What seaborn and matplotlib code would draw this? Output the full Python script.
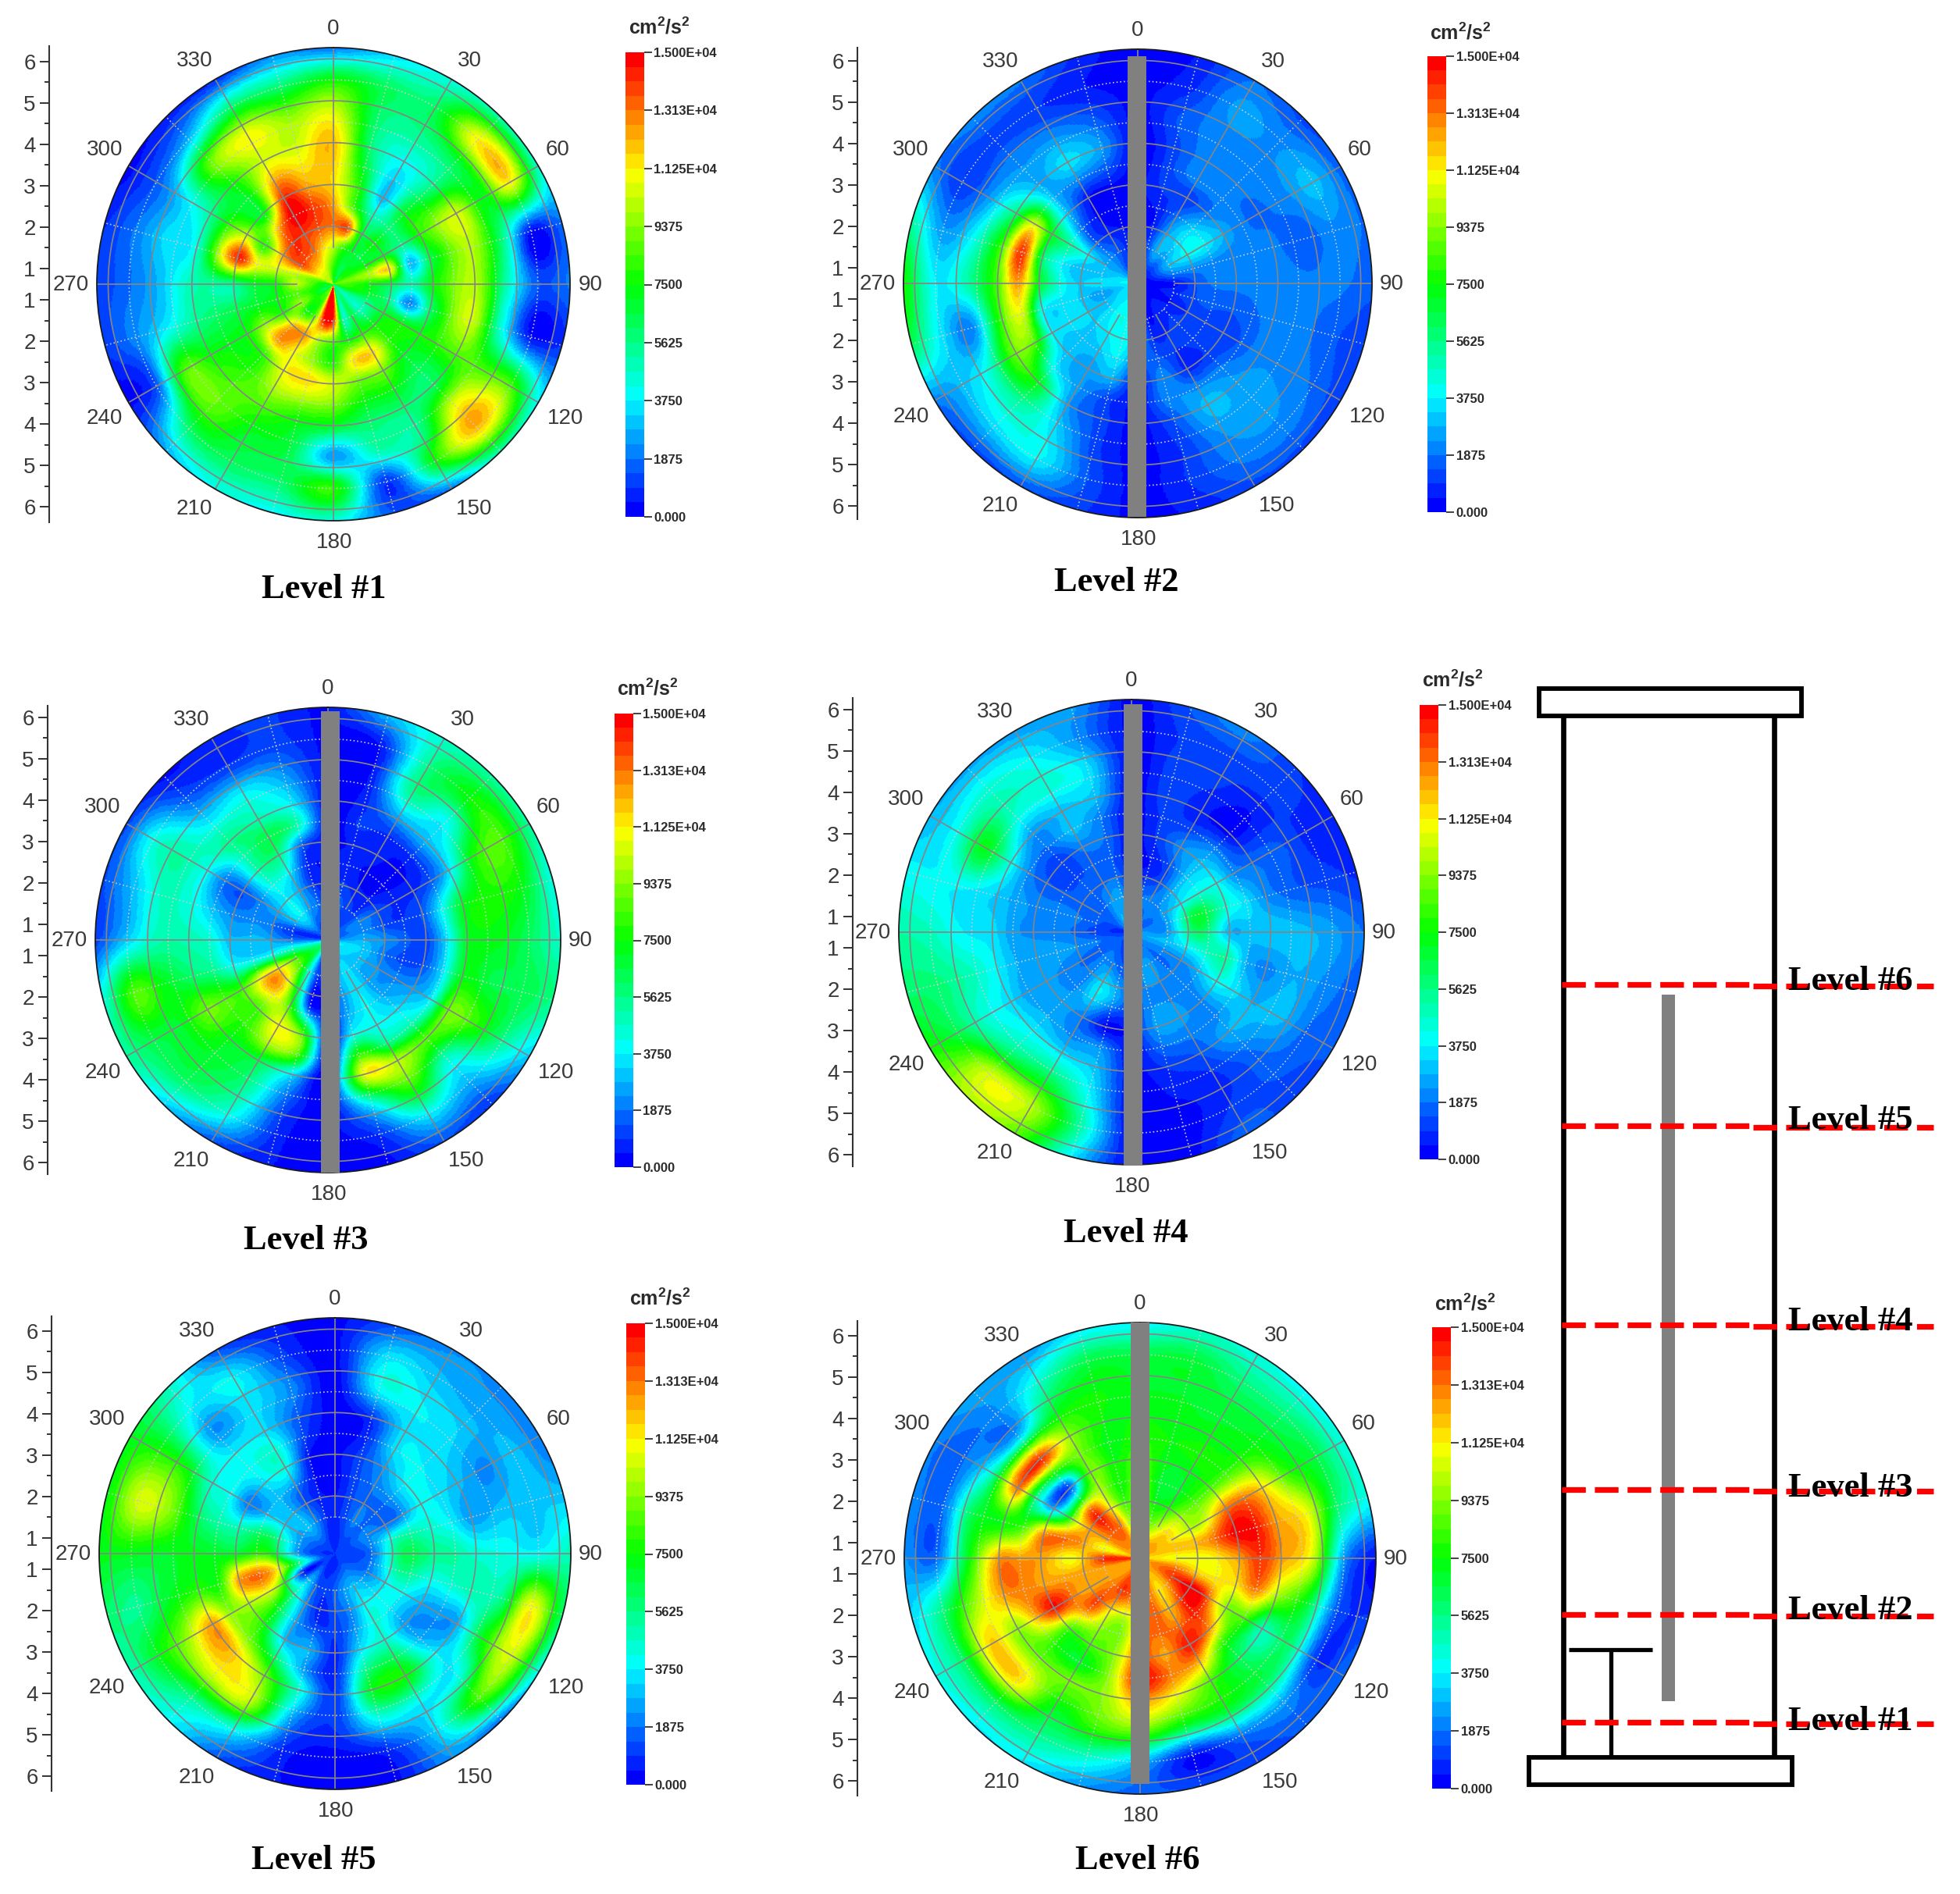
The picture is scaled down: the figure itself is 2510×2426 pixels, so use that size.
import numpy as np
import matplotlib
matplotlib.use("Agg")
import matplotlib.pyplot as plt
from matplotlib.colors import ListedColormap, Normalize
from matplotlib.patches import Rectangle
import seaborn as sns

# Turbulent kinetic energy maps at six levels, in hundreds of cm2/s2.
# Each row is one direction (0, 15, ... 345 degrees), each column one radius.
RINGS_FINE_CORE = [0.8, 1.5, 2.0, 2.5, 3.0, 4.0, 4.75, 5.5, 6.37]
RINGS_MID = [0.8, 1.5, 2.25, 3.0, 3.5, 4.0, 4.75, 5.5, 6.37]

LEVEL_1 = [
    [75, 100, 130, 125, 115, 120, 105, 75, 15],
    [70, 80, 135, 85, 78, 60, 60, 62, 32],
    [60, 70, 68, 50, 30, 40, 55, 62, 42],
    [80, 65, 75, 58, 70, 55, 65, 112, 45],
    [80, 75, 70, 55, 80, 105, 72, 112, 40],
    [90, 100, 115, 30, 65, 100, 60, 5, 20],
    [85, 75, 65, 50, 75, 100, 50, 15, 20],
    [80, 70, 55, 22, 60, 105, 45, 5, 10],
    [60, 55, 70, 75, 75, 85, 85, 85, 35],
    [50, 48, 75, 80, 70, 62, 110, 120, 45],
    [60, 65, 80, 115, 90, 60, 55, 75, 15],
    [60, 50, 75, 115, 90, 60, 50, 10, 15],
    [150, 140, 85, 80, 105, 70, 25, 80, 40],
    [150, 145, 100, 95, 115, 75, 65, 60, 38],
    [90, 90, 125, 110, 110, 85, 70, 62, 40],
    [85, 75, 120, 125, 80, 85, 88, 60, 25],
    [60, 95, 80, 95, 75, 75, 85, 15, 3],
    [70, 85, 75, 70, 65, 55, 38, 22, 10],
    [70, 100, 75, 70, 55, 50, 30, 18, 10],
    [85, 100, 105, 110, 140, 45, 35, 20, 8],
    [100, 135, 125, 80, 100, 55, 35, 15, 2],
    [100, 135, 140, 120, 70, 75, 90, 30, 5],
    [100, 130, 140, 150, 140, 105, 110, 60, 5],
    [90, 115, 135, 140, 125, 105, 95, 60, 20],
]
LEVEL_2 = [
    [5, 5, 3, 3, 2, 2, 3, 3, 2],
    [3, 12, 5, 10, 12, 12, 15, 8, 5],
    [3, 28, 22, 10, 22, 22, 22, 25, 18],
    [3, 25, 36, 20, 20, 20, 22, 22, 12],
    [3, 30, 40, 28, 20, 18, 22, 30, 15],
    [2, 20, 22, 20, 20, 20, 15, 22, 18],
    [2, 4, 18, 20, 20, 22, 20, 20, 15],
    [2, 8, 15, 15, 18, 20, 20, 15, 10],
    [2, 4, 12, 10, 15, 22, 22, 18, 10],
    [2, 8, 12, 10, 20, 25, 25, 22, 12],
    [3, 6, 10, 8, 22, 30, 24, 20, 12],
    [3, 5, 12, 22, 22, 15, 10, 10, 6],
    [5, 30, 25, 6, 5, 3, 3, 3, 3],
    [30, 40, 40, 28, 12, 12, 12, 15, 10],
    [35, 42, 35, 25, 25, 25, 35, 38, 12],
    [35, 35, 32, 30, 40, 70, 50, 35, 10],
    [38, 30, 35, 38, 85, 90, 45, 30, 20],
    [35, 25, 35, 40, 105, 85, 22, 35, 65],
    [38, 36, 35, 70, 125, 85, 50, 38, 80],
    [38, 30, 32, 60, 140, 85, 40, 25, 55],
    [30, 28, 45, 70, 105, 60, 25, 10, 22],
    [20, 22, 15, 30, 32, 28, 22, 12, 22],
    [8, 15, 5, 5, 22, 35, 22, 10, 20],
    [5, 8, 3, 3, 15, 25, 15, 5, 8],
]
LEVEL_3 = [
    [5, 5, 5, 5, 3, 3, 3, 3, 5],
    [5, 15, 8, 5, 10, 8, 6, 5, 30],
    [5, 12, 4, 6, 8, 25, 55, 55, 45],
    [15, 10, 4, 3, 10, 30, 42, 75, 50],
    [15, 22, 10, 8, 15, 35, 78, 85, 50],
    [15, 22, 10, 15, 40, 70, 78, 72, 40],
    [25, 28, 20, 12, 35, 70, 72, 62, 45],
    [38, 32, 15, 14, 35, 72, 65, 65, 55],
    [38, 30, 22, 25, 38, 90, 80, 55, 30],
    [35, 30, 25, 35, 50, 85, 45, 28, 8],
    [30, 35, 38, 40, 55, 100, 80, 38, 12],
    [30, 30, 25, 40, 80, 108, 40, 10, 3],
    [30, 25, 10, 5, 3, 3, 3, 3, 3],
    [10, 10, 5, 85, 85, 35, 15, 8, 5],
    [40, 40, 70, 110, 100, 65, 55, 42, 12],
    [60, 80, 120, 85, 80, 72, 68, 60, 30],
    [55, 85, 120, 85, 85, 90, 70, 65, 52],
    [45, 50, 40, 40, 55, 60, 72, 85, 40],
    [20, 20, 30, 30, 45, 50, 50, 32, 10],
    [5, 10, 22, 22, 30, 42, 48, 30, 12],
    [10, 30, 25, 15, 20, 40, 52, 42, 10],
    [15, 38, 38, 50, 50, 55, 35, 15, 3],
    [10, 25, 30, 55, 65, 50, 38, 10, 8],
    [8, 18, 8, 15, 50, 38, 25, 12, 10],
]
LEVEL_4 = [
    [5, 8, 5, 3, 3, 3, 3, 3, 3],
    [10, 18, 5, 10, 10, 12, 12, 10, 15],
    [15, 20, 12, 22, 12, 6, 10, 12, 22],
    [18, 22, 30, 30, 20, 3, 5, 12, 10],
    [12, 25, 42, 40, 22, 18, 15, 8, 8],
    [20, 25, 68, 45, 35, 22, 15, 12, 8],
    [25, 25, 62, 30, 30, 32, 30, 25, 18],
    [28, 30, 42, 52, 28, 22, 28, 22, 15],
    [25, 22, 25, 40, 35, 28, 30, 18, 15],
    [20, 18, 20, 22, 22, 28, 18, 15, 10],
    [15, 25, 22, 25, 20, 15, 8, 10, 18],
    [12, 25, 22, 25, 18, 10, 5, 2, 3],
    [10, 15, 15, 8, 5, 5, 3, 2, 2],
    [10, 15, 28, 3, 22, 30, 40, 52, 35],
    [10, 20, 38, 20, 22, 35, 65, 100, 85],
    [12, 22, 22, 25, 28, 38, 58, 105, 100],
    [15, 15, 20, 25, 25, 35, 45, 65, 78],
    [12, 20, 25, 28, 28, 38, 50, 58, 60],
    [8, 12, 20, 22, 25, 35, 38, 48, 52],
    [8, 15, 22, 22, 26, 32, 38, 38, 40],
    [18, 15, 15, 15, 22, 42, 72, 42, 28],
    [22, 18, 15, 10, 18, 25, 48, 45, 25],
    [30, 25, 15, 20, 30, 30, 45, 38, 25],
    [15, 25, 15, 18, 20, 30, 35, 22, 25],
]
LEVEL_5 = [
    [5, 8, 3, 3, 2, 2, 2, 3, 3],
    [8, 12, 12, 12, 8, 10, 40, 35, 12],
    [10, 20, 18, 25, 35, 35, 38, 30, 22],
    [10, 18, 18, 38, 38, 35, 33, 26, 22],
    [10, 22, 18, 40, 35, 30, 22, 30, 18],
    [10, 22, 50, 45, 38, 25, 30, 32, 30],
    [10, 18, 62, 55, 52, 45, 42, 40, 50],
    [10, 20, 55, 42, 45, 50, 55, 110, 55],
    [12, 20, 42, 28, 25, 28, 75, 105, 35],
    [12, 26, 40, 25, 28, 38, 40, 85, 12],
    [12, 30, 42, 45, 62, 75, 38, 35, 22],
    [8, 25, 22, 35, 55, 70, 40, 8, 3],
    [6, 16, 12, 8, 8, 10, 10, 3, 3],
    [8, 10, 8, 28, 25, 45, 25, 8, 5],
    [5, 15, 25, 30, 60, 90, 100, 40, 12],
    [10, 30, 60, 75, 90, 118, 105, 55, 38],
    [12, 8, 100, 100, 95, 125, 95, 72, 48],
    [10, 55, 125, 125, 78, 80, 70, 55, 60],
    [8, 25, 80, 70, 70, 72, 70, 72, 72],
    [8, 25, 62, 50, 52, 62, 95, 105, 70],
    [10, 25, 35, 20, 40, 45, 75, 78, 70],
    [10, 30, 28, 35, 40, 38, 24, 38, 48],
    [10, 22, 15, 42, 45, 35, 35, 38, 12],
    [6, 10, 5, 5, 12, 15, 22, 12, 5],
]
LEVEL_6 = [
    [125, 100, 95, 85, 80, 75, 70, 65, 35],
    [125, 90, 70, 72, 75, 72, 70, 68, 45],
    [130, 100, 72, 72, 78, 72, 68, 58, 42],
    [125, 115, 90, 85, 82, 78, 70, 58, 38],
    [125, 115, 100, 130, 130, 115, 80, 65, 40],
    [120, 120, 125, 148, 145, 125, 110, 60, 40],
    [115, 110, 110, 125, 140, 125, 105, 25, 3],
    [125, 130, 115, 115, 130, 100, 70, 15, 10],
    [125, 140, 148, 95, 85, 50, 60, 10, 20],
    [125, 125, 145, 125, 78, 62, 65, 25, 15],
    [125, 115, 125, 145, 120, 85, 72, 20, 10],
    [130, 130, 135, 125, 130, 110, 72, 5, 15],
    [130, 125, 125, 135, 145, 125, 90, 30, 15],
    [130, 135, 95, 95, 95, 95, 85, 48, 22],
    [130, 140, 105, 85, 70, 90, 72, 55, 35],
    [125, 130, 135, 85, 80, 90, 115, 62, 35],
    [125, 125, 125, 145, 120, 95, 118, 62, 40],
    [125, 125, 125, 125, 130, 125, 95, 58, 32],
    [145, 140, 110, 125, 125, 125, 72, 18, 25],
    [120, 110, 130, 125, 85, 75, 65, 18, 22],
    [125, 125, 115, 30, 55, 130, 45, 18, 20],
    [125, 135, 135, 15, 75, 140, 30, 22, 28],
    [125, 130, 105, 90, 90, 95, 68, 45, 22],
    [125, 100, 78, 75, 72, 75, 75, 65, 35],
]

PANEL_NAMES = ["Level #1", "Level #2", "Level #3", "Level #4", "Level #5", "Level #6"]
PANEL_DATA = [LEVEL_1, LEVEL_2, LEVEL_3, LEVEL_4, LEVEL_5, LEVEL_6]
PANEL_RINGS = [RINGS_FINE_CORE, RINGS_MID, RINGS_MID, RINGS_MID, RINGS_MID, RINGS_MID]

BEARINGS = list(range(0, 360, 30))
RADIAL_TICKS = [1, 2, 3, 4, 5, 6]
SCALE_TICK_LABELS = ["1.500E+04", "1.313E+04", "1.125E+04", "9375", "7500",
                     "5625", "3750", "1875", "0.000"]
VMAX = 15000
R_IN, R_OUT = 0.62, 6.27
RADIAL_PX_PER_UNIT = 53

# Page layout in image pixels.
DISC_CENTRES = [(427, 364), (1457, 363), (420, 1204), (1449, 1194), (429, 1990), (1460, 1996)]
DISC_RADII = [303, 300, 298, 298, 302, 302]
AXIS_X = [63, 1098, 61, 1092, 66, 1098]
SCALE_BOXES = [(801, 67, 662), (1828, 72, 656), (787, 914, 1495),
               (1818, 903, 1485), (802, 1695, 2286), (1834, 1700, 2291)]
UNIT_XY = [(844, 35), (1870, 42), (829, 882), (1860, 871), (845, 1663), (1876, 1670)]
TITLE_XY = [(415, 755), (1430, 746), (392, 1589), (1442, 1580), (402, 2383), (1457, 2383)]
ROD_BARS = [None, (1444, 1468, 72, 662), (411, 435, 911, 1502),
            (1439, 1463, 902, 1493), None, (1448, 1472, 1694, 2285)]
# Offset of each bearing label from the disc centre, per unit of disc radius.
BEARING_LABEL_OFFSETS = [(0.0, -1.08), (0.577, -0.945), (0.947, -0.569), (1.085, 0.003),
                         (0.979, 0.569), (0.593, 0.95), (0.005, 1.093), (-0.587, 0.95),
                         (-0.968, 0.569), (-1.111, 0.003), (-0.968, -0.569), (-0.587, -0.945)]

# Channel sketch on the right of the page.
SKETCH_LEVELS = ["Level #1", "Level #2", "Level #3", "Level #4", "Level #5", "Level #6"]
SKETCH_LINE_Y = [2206, 2068, 1908, 1697, 1442, 1261]
SKETCH_LABEL_Y = [2205, 2063, 1906, 1693, 1435, 1257]

W, H = 2510, 2426
sns.set_theme(style="white", rc={"font.family": ["Liberation Sans", "DejaVu Sans"]})
sns.set_style({"xtick.bottom": True, "ytick.left": True})
plt.rcParams["font.family"] = ["Liberation Sans", "DejaVu Sans"]
plt.rcParams["mathtext.fontset"] = "custom"
plt.rcParams["mathtext.bf"] = "Liberation Sans:bold"
palette = sns.blend_palette(["#0000ff", "#00ffff", "#00ff00", "#ffff00", "#ff0000"], n_colors=32)
CMAP = ListedColormap(palette)
NORM = Normalize(0, VMAX)
TEXT = "#3a3a3a"
GRID = "#858585"
DOTS = "#c9c9c9"


def spline(p0, p1, p2, p3, f):
    return 0.5 * (2 * p1 + (p2 - p0) * f + (2 * p0 - 5 * p1 + 4 * p2 - p3) * f ** 2
                  + (3 * p1 - p0 - 3 * p2 + p3) * f ** 3)


def refine(rows, rings, n_theta=720, n_r=170):
    """Smooth the direction/radius table onto a dense polar mesh."""
    table = np.asarray(rows, dtype=float) * 100
    theta_edges = np.linspace(0, 2 * np.pi, n_theta + 1)
    r_edges = np.linspace(R_IN, R_OUT + 0.05, n_r + 1)
    t = (theta_edges[:-1] + theta_edges[1:]) / 2 / (2 * np.pi) * table.shape[0]
    i = np.floor(t).astype(int)
    f = (t - i)[:, None]
    m = table.shape[0]
    along = spline(table[(i - 1) % m], table[i % m], table[(i + 1) % m], table[(i + 2) % m], f)
    centres = (r_edges[:-1] + r_edges[1:]) / 2
    u = np.interp(centres, rings, np.arange(len(rings)))
    j = np.minimum(np.floor(u).astype(int), len(rings) - 2)
    g = (u - j)[None, :]
    last = len(rings) - 1
    z = spline(along[:, np.clip(j - 1, 0, last)], along[:, j],
               along[:, j + 1], along[:, np.clip(j + 2, 0, last)], g)
    return theta_edges, r_edges, np.clip(z, 0, VMAX)


def rect(x0, x1, y0, y1):
    return [x0 / W, 1 - y1 / H, (x1 - x0) / W, (y1 - y0) / H]


fig = plt.figure(figsize=(W / 100, H / 100), dpi=100, facecolor="white")
scale_grid = np.linspace(VMAX, 0, 32)[:, None]

for k, name in enumerate(PANEL_NAMES):
    cx, cy = DISC_CENTRES[k]
    rad = DISC_RADII[k]

    # Polar contour disc, clockwise from north.
    ax = fig.add_axes(rect(cx - rad, cx + rad, cy - rad, cy + rad), projection="polar")
    ax.set_theta_zero_location("N")
    ax.set_theta_direction(-1)
    th, rr, z = refine(PANEL_DATA[k], PANEL_RINGS[k])
    ax.pcolormesh(th, rr, z.T, cmap=CMAP, norm=NORM, shading="flat", rasterized=True)
    ax.set_ylim(R_IN, R_OUT)
    ax.grid(False)
    ax.set_yticks([])
    ax.set_xticks(np.radians(BEARINGS))
    ax.set_xticklabels([])
    ax.tick_params(axis="x", length=0)
    ax.spines["polar"].set_color("#1a1a1a")
    ax.spines["polar"].set_linewidth(1.3)
    for b, (ox, oy) in zip(BEARINGS, BEARING_LABEL_OFFSETS):
        fig.text((cx + ox * rad) / W, 1 - (cy + oy * rad) / H, str(b), fontsize=20,
                 color=TEXT, ha="center", va="center")

    circle = np.linspace(0, 2 * np.pi, 361)
    for r in (1.5, 2.5, 3.5, 4.5, 5.5):
        ax.plot(circle, np.full_like(circle, r), color=DOTS, lw=1.2, ls=(0, (1, 1.8)))
    for b in range(15, 360, 30):
        ax.plot(np.radians([b, b]), [1.5, R_OUT], color=DOTS, lw=1.2, ls=(0, (1, 1.8)))
    for r in (2, 3, 4, 5, 6):
        ax.plot(circle, np.full_like(circle, r), color=GRID, lw=1.25)
    for b in BEARINGS:
        ax.plot(np.radians([b, b]), [1.5, R_OUT], color=GRID, lw=1.25)
    ax.set_ylim(R_IN, R_OUT)

    # Radial scale mirrored about the centre.
    ax_r = fig.add_axes(rect(AXIS_X[k], AXIS_X[k] + 4, cy - rad - 2, cy + rad + 2))
    ax_r.patch.set_alpha(0)
    span = (rad + 2) / RADIAL_PX_PER_UNIT
    ax_r.set_ylim(-span, span)
    ax_r.set_xticks([])
    majors = [(r - R_IN) for r in RADIAL_TICKS]
    minors = [(r - R_IN + 0.5) for r in RADIAL_TICKS[:-1]]
    ax_r.set_yticks(majors + [-m for m in majors])
    ax_r.set_yticklabels([str(r) for r in RADIAL_TICKS] * 2, fontsize=20, color=TEXT)
    ax_r.set_yticks(minors + [-m for m in minors], minor=True)
    ax_r.tick_params(axis="y", which="major", length=8.5, width=1.4, color="#333333", pad=4, left=True)
    ax_r.tick_params(axis="y", which="minor", length=4.5, width=1.4, color="#333333", left=True)
    sns.despine(ax=ax_r, top=True, right=True, bottom=True)
    ax_r.spines["left"].set_color("#333333")
    ax_r.spines["left"].set_linewidth(1.5)

    # Colour scale.
    x0, y0, y1 = SCALE_BOXES[k]
    cax = fig.add_axes(rect(x0, x0 + 24, y0, y1))
    sns.heatmap(scale_grid, ax=cax, cmap=CMAP, norm=NORM, cbar=False,
                xticklabels=False, yticklabels=False)
    cax.yaxis.tick_right()
    cax.set_yticks(np.linspace(0, 32, len(SCALE_TICK_LABELS)))
    cax.set_yticklabels(SCALE_TICK_LABELS, fontsize=12, fontweight="bold", color="#2a2a2a", rotation=0)
    cax.tick_params(axis="y", right=True, left=False, length=7, width=1.2, color="#222222", pad=2)

    ux, uy = UNIT_XY[k]
    fig.text(ux / W, 1 - uy / H, r"$\mathbf{cm^2/s^2}$", fontsize=18,
             color="#2a2a2a", ha="center", va="center")
    tx, ty = TITLE_XY[k]
    fig.text(tx / W, 1 - ty / H, name, family="Liberation Serif", fontsize=32,
             fontweight="bold", color="black", ha="center", va="center")

# Page overlay in image pixels: rods over the discs and the channel sketch.
page = fig.add_axes([0, 0, 1, 1], zorder=20)
page.patch.set_alpha(0)
page.set_xlim(0, W)
page.set_ylim(H, 0)
page.axis("off")

for bar in ROD_BARS:
    if bar:
        page.add_patch(Rectangle((bar[0], bar[2]), bar[1] - bar[0], bar[3] - bar[2],
                                 facecolor="#808080", edgecolor="none"))

page.add_patch(Rectangle((1971, 882), 336, 35, facecolor="white", edgecolor="black", lw=4.2))
page.add_patch(Rectangle((1958, 2251), 337, 35, facecolor="white", edgecolor="black", lw=4.2))
page.plot([2001.5, 2001.5], [917, 2251], color="black", lw=4.8, solid_capstyle="butt")
page.plot([2272, 2272], [917, 2251], color="black", lw=4.8, solid_capstyle="butt")
page.plot([2009, 2116], [2113, 2113], color="black", lw=3.8, solid_capstyle="butt")
page.plot([2063, 2063], [2113, 2251], color="black", lw=3.8, solid_capstyle="butt")
page.add_patch(Rectangle((2128, 1274), 17, 905, facecolor="#808080", edgecolor="none"))

for label, line_y, label_y in zip(SKETCH_LEVELS, SKETCH_LINE_Y, SKETCH_LABEL_Y):
    page.plot([2000, 2245], [line_y, line_y], color="#ff0000", lw=5.2, ls=(0, (4.2, 1.6)),
              dash_capstyle="butt")
    page.plot([2245, 2476], [line_y + 2, line_y + 2], color="#ff0000", lw=5.2, ls=(0, (4.2, 1.6)),
              dash_capstyle="butt")
    page.text(2290, label_y, label, family="Liberation Serif", fontsize=32, fontweight="bold",
              color="black", ha="left", va="center")

fig.savefig("out.png", dpi=100, facecolor="white")
